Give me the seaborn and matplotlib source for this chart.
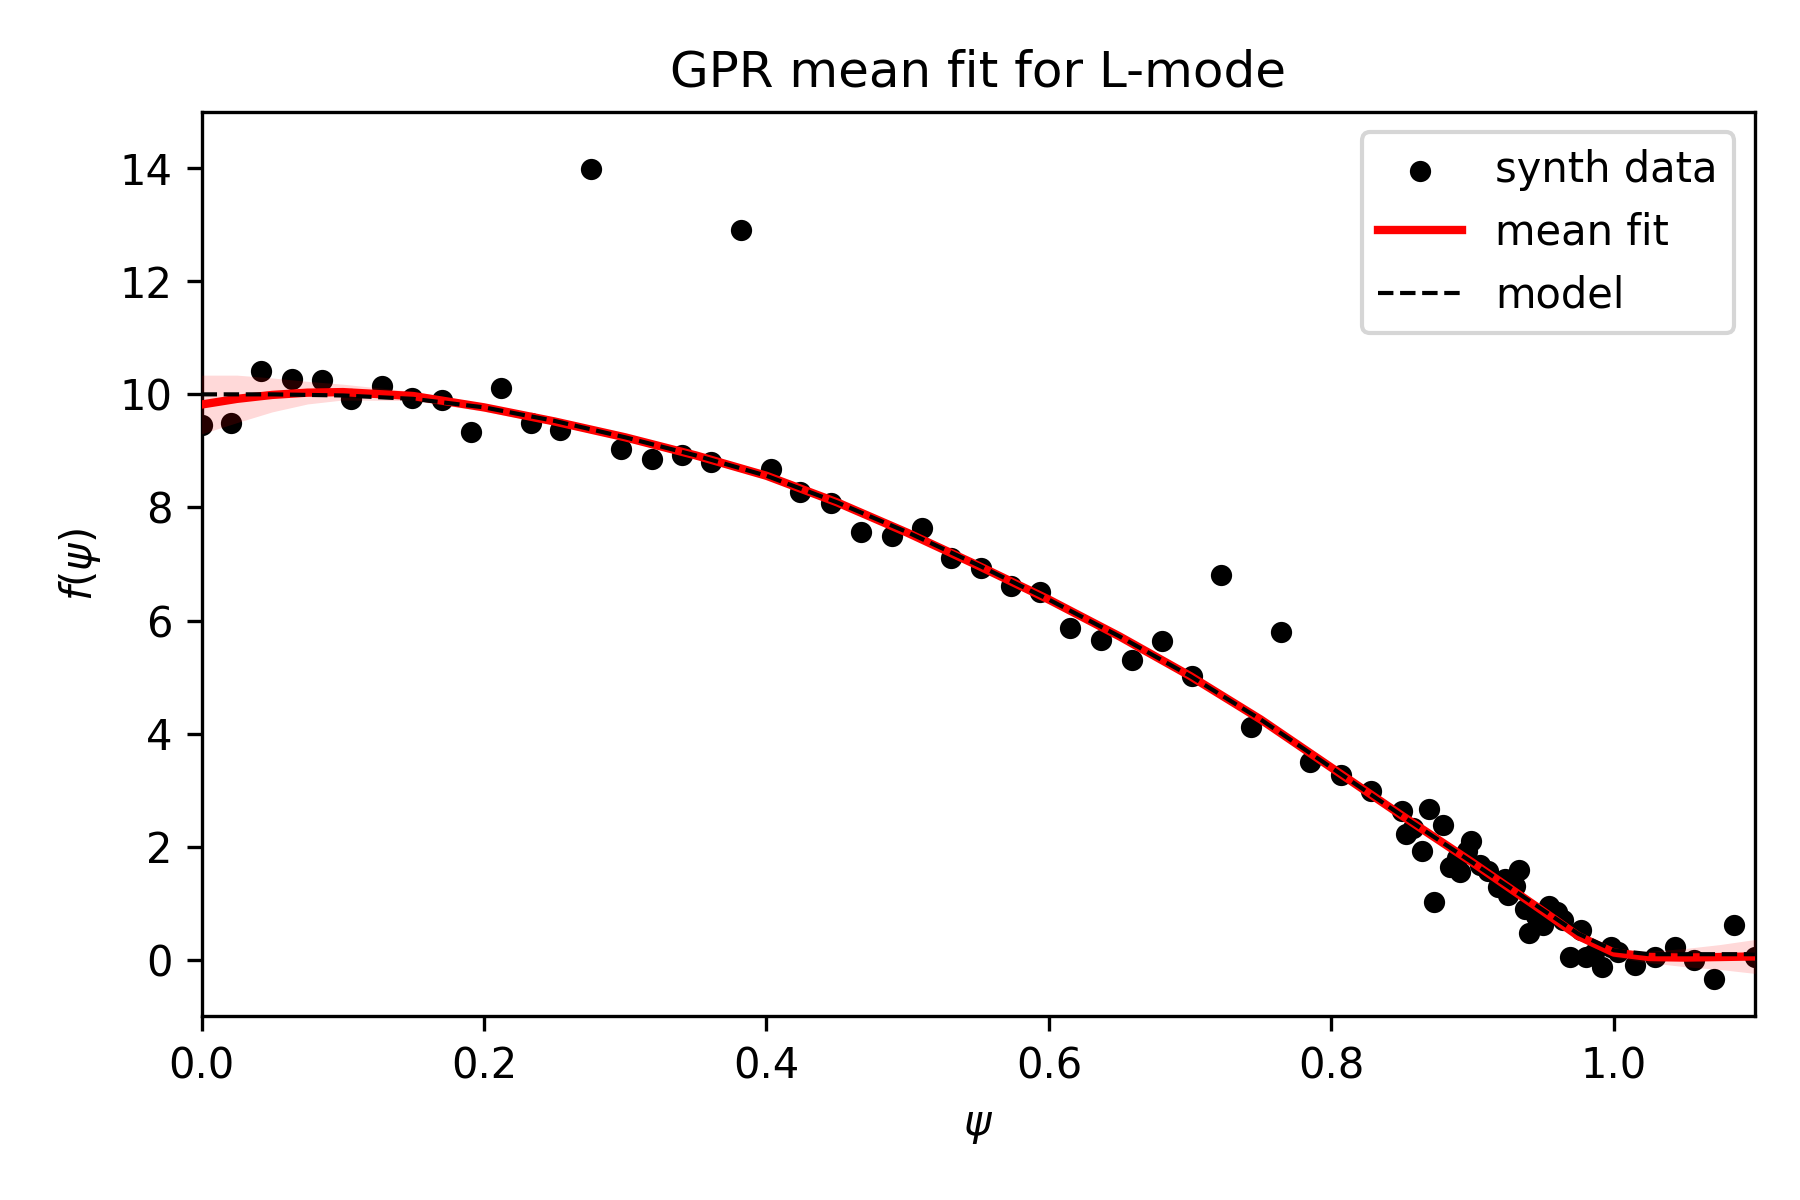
import numpy as np
import pandas as pd
import matplotlib
matplotlib.use("Agg")
import matplotlib.pyplot as plt
import seaborn as sns

psi_data = [0.000, 0.021, 0.042, 0.064, 0.085, 0.106, 0.128, 0.149, 0.170, 0.191,
            0.212, 0.233, 0.254, 0.276, 0.297, 0.319, 0.340, 0.361, 0.382, 0.403,
            0.424, 0.446, 0.467, 0.489, 0.510, 0.531, 0.552, 0.573, 0.594, 0.615,
            0.637, 0.659, 0.680, 0.701, 0.722, 0.743, 0.764, 0.785, 0.807, 0.828,
            0.850, 0.853, 0.858, 0.864, 0.869, 0.873, 0.879, 0.884, 0.889, 0.891,
            0.896, 0.899, 0.905, 0.911, 0.918, 0.923, 0.925, 0.930, 0.933, 0.937,
            0.940, 0.945, 0.950, 0.954, 0.960, 0.964, 0.969, 0.977, 0.980, 0.986,
            0.992, 0.998, 1.003, 1.015, 1.029, 1.043, 1.057, 1.071, 1.085, 1.100]
f_data = [9.45, 9.50, 10.42, 10.27, 10.25, 9.92, 10.14, 9.93, 9.90, 9.33,
          10.12, 9.49, 9.37, 13.98, 9.04, 8.86, 8.92, 8.80, 12.91, 8.68,
          8.27, 8.07, 7.56, 7.50, 7.64, 7.11, 6.93, 6.61, 6.50, 5.87,
          5.65, 5.30, 5.63, 5.02, 6.81, 4.11, 5.79, 3.50, 3.27, 2.98,
          2.64, 2.23, 2.33, 1.92, 2.66, 1.02, 2.39, 1.64, 1.80, 1.55,
          1.93, 2.11, 1.68, 1.58, 1.29, 1.43, 1.14, 1.30, 1.59, 0.90,
          0.47, 0.78, 0.61, 0.96, 0.84, 0.70, 0.05, 0.52, 0.05, 0.12,
          -0.13, 0.22, 0.14, -0.09, 0.05, 0.22, -0.01, -0.34, 0.62, 0.05]

# GPR mean fit, its std, and the true model on a grid
psi_fit = [0.0, 0.025, 0.05, 0.075, 0.1, 0.15, 0.2, 0.25, 0.3, 0.35, 0.4, 0.45,
           0.5, 0.55, 0.6, 0.65, 0.7, 0.75, 0.8, 0.85, 0.9, 0.925, 0.95, 0.975,
           1.0, 1.025, 1.05, 1.075, 1.1]
mean_fit = [9.82, 9.92, 9.99, 10.03, 10.04, 9.97, 9.77, 9.52, 9.24, 8.92, 8.56, 8.09,
            7.55, 6.97, 6.37, 5.72, 5.02, 4.25, 3.40, 2.55, 1.72, 1.29, 0.86, 0.42,
            0.13, 0.05, 0.04, 0.05, 0.06]
std_fit = [0.26, 0.21, 0.15, 0.10, 0.07, 0.04, 0.035, 0.03, 0.03, 0.03, 0.03, 0.03,
           0.03, 0.03, 0.03, 0.03, 0.03, 0.03, 0.03, 0.03, 0.035, 0.035, 0.035, 0.035,
           0.04, 0.05, 0.08, 0.11, 0.15]
model = [10.0, 10.0, 10.0, 9.99, 9.98, 9.92, 9.77, 9.53, 9.24, 8.92, 8.56, 8.09,
         7.56, 6.98, 6.37, 5.72, 5.02, 4.25, 3.40, 2.55, 1.72, 1.30, 0.88, 0.46,
         0.17, 0.10, 0.10, 0.10, 0.10]

data = pd.DataFrame({"psi": psi_data, "f": f_data})
fit = pd.DataFrame({"psi": psi_fit, "mean": mean_fit, "std": std_fit, "model": model})

fig, ax = plt.subplots(figsize=(6, 4), dpi=300)

sns.scatterplot(data=data, x="psi", y="f", color="k", s=26, linewidth=0,
                label="synth data", ax=ax, zorder=2)
ax.fill_between(fit["psi"], fit["mean"] - 2 * fit["std"], fit["mean"] + 2 * fit["std"],
                color="red", alpha=0.15, linewidth=0, zorder=3)
sns.lineplot(data=fit, x="psi", y="mean", color="red", linewidth=2,
             label="mean fit", ax=ax, zorder=4)
sns.lineplot(data=fit, x="psi", y="model", color="k", linewidth=1,
             linestyle="--", label="model", ax=ax, zorder=5)

ax.set_xlim(0, 1.1)
ax.set_ylim(-1, 15)
ax.set_title("GPR mean fit for L-mode")
ax.set_xlabel(r"$\psi$")
ax.set_ylabel(r"$f(\psi)$")
ax.legend(loc="upper right")

fig.subplots_adjust(left=0.112, right=0.975, top=0.907, bottom=0.153)
fig.savefig("out.png", dpi=300)
